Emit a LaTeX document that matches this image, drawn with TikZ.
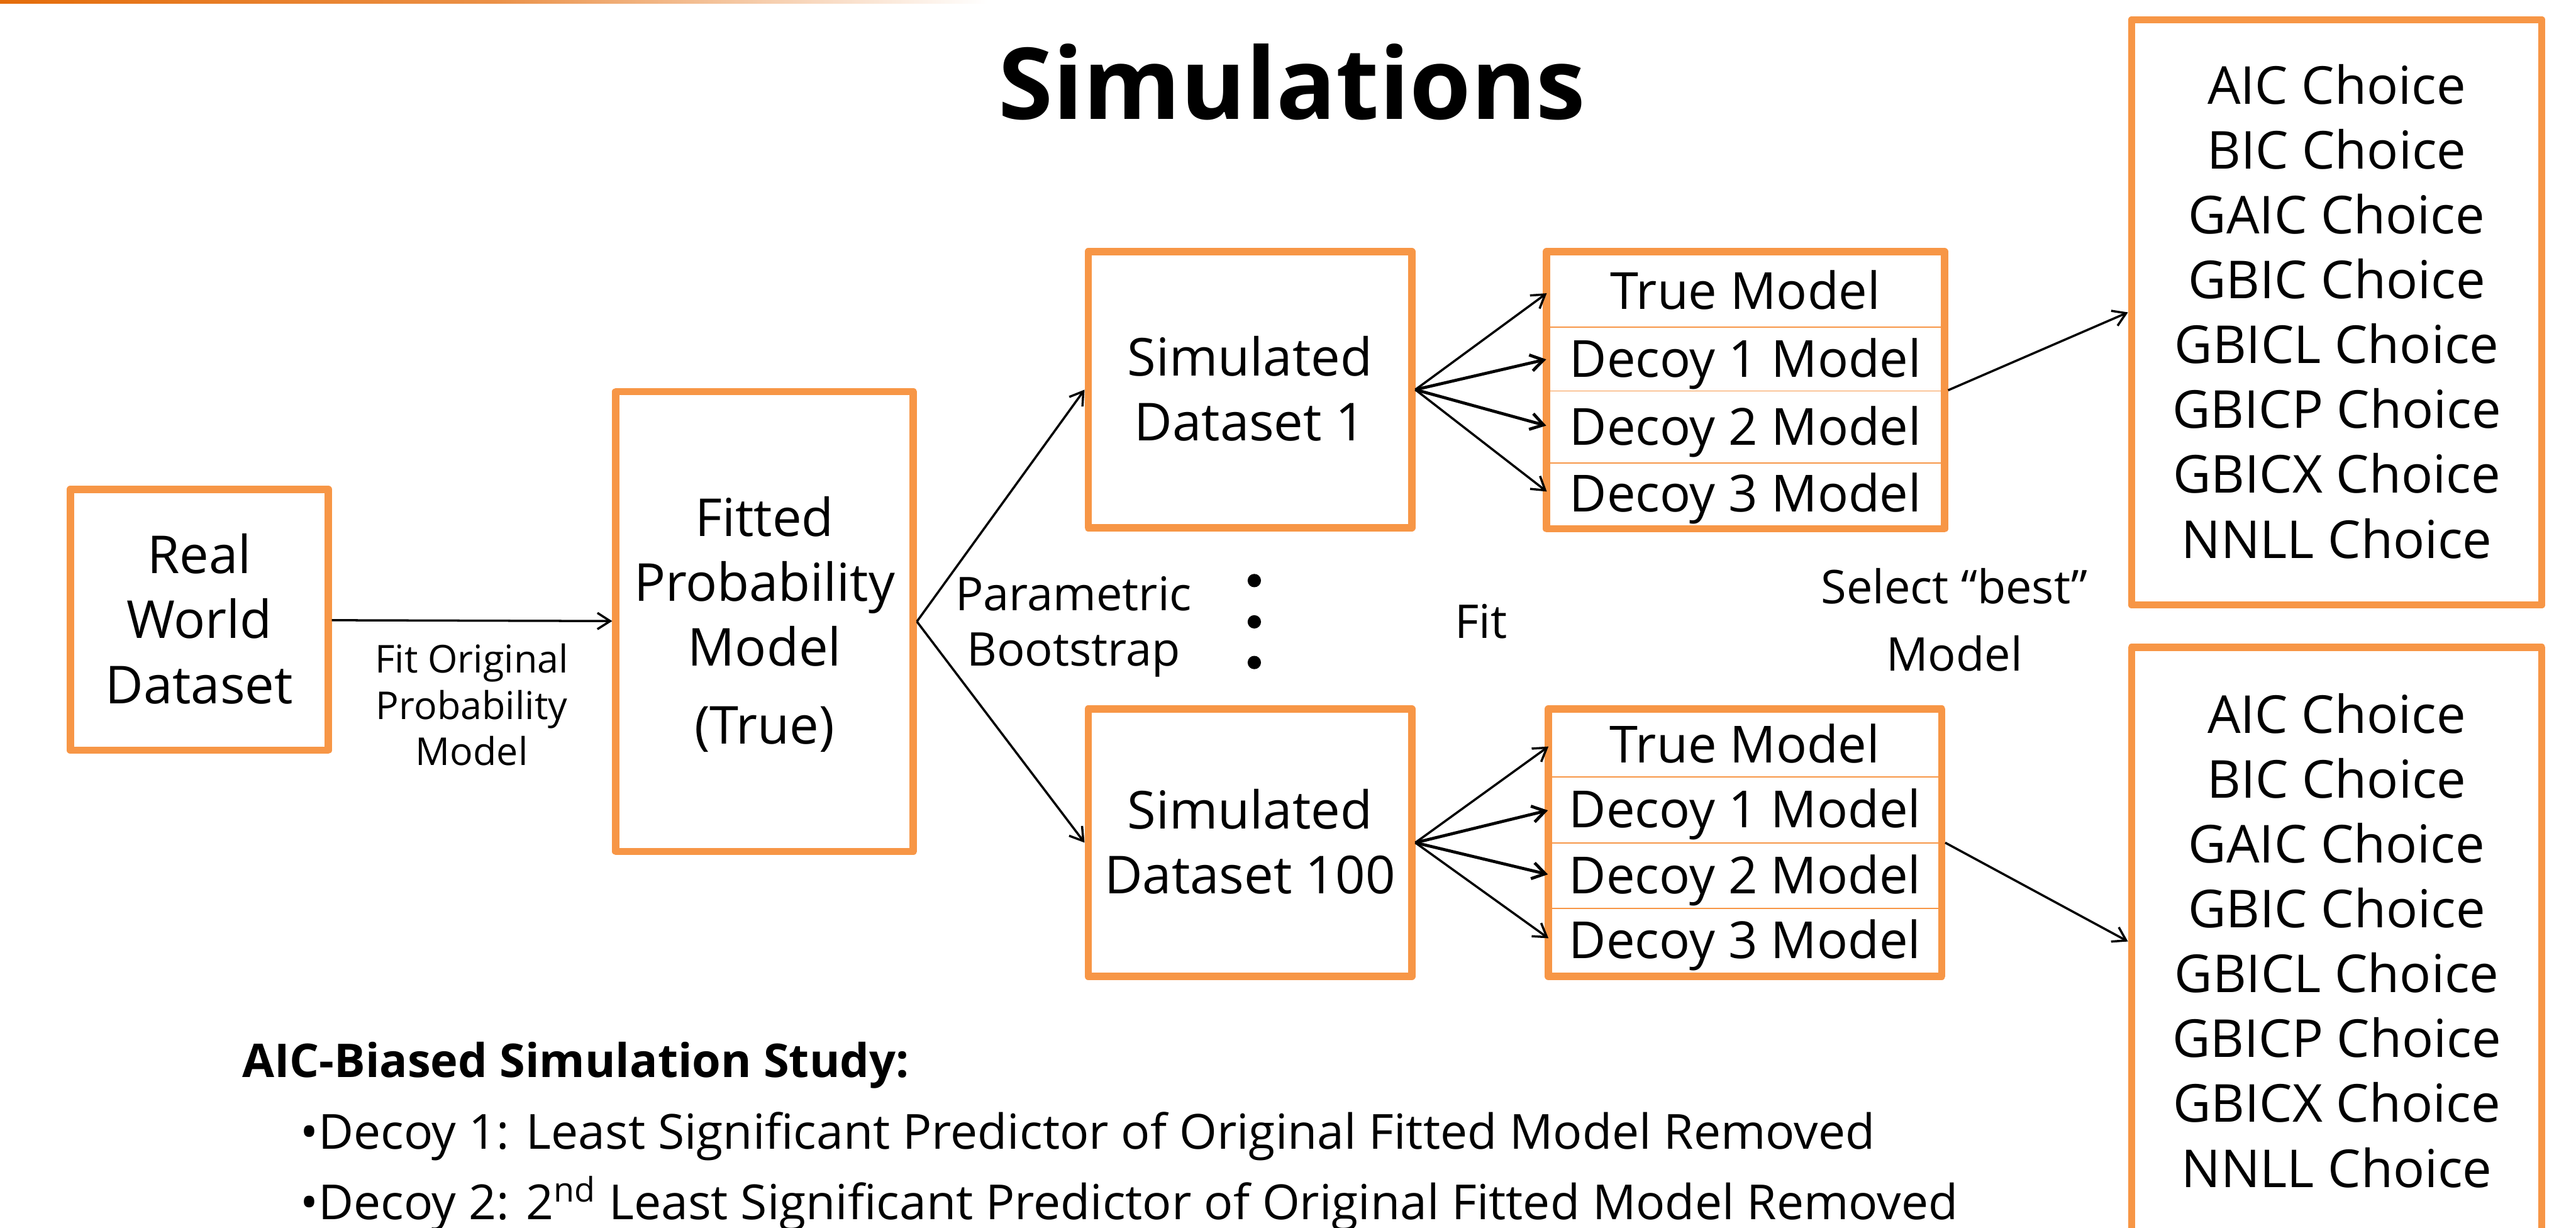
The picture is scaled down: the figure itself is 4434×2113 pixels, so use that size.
\documentclass[tikz,border=0pt]{standalone}
\usepackage{fontspec}
\setmainfont{Open Sans}
\usetikzlibrary{arrows.meta}
\definecolor{boxor}{RGB}{247,150,70}
\definecolor{topor}{RGB}{228,108,10}
\newcommand{\pxu}{0.25pt}
\newcommand{\cs}{\rule[-0.26em]{0pt}{1.234em}}
\newcommand{\boxfont}{\fontsize{22.5pt}{27.9pt}\selectfont\lineskiplimit=-100pt\relax}
\newcommand{\rowfont}{\fontsize{22pt}{26pt}\selectfont}
\newcommand{\smallfont}{\fontsize{16.5pt}{19.9pt}\selectfont\lineskiplimit=-100pt\relax}
\newcommand{\lblfont}{\fontsize{20pt}{24pt}\selectfont\lineskiplimit=-100pt\relax}
\newcommand{\selfont}{\fontsize{20pt}{28.75pt}\selectfont\lineskiplimit=-100pt\relax}
\newcommand{\titlefont}{\fontsize{42.7pt}{50pt}\selectfont\bfseries}
\newcommand{\studyfont}{\fontsize{20pt}{24pt}\selectfont\bfseries}
\newcommand{\bulfont}{\fontsize{20.8pt}{24pt}\selectfont}
\tikzset{
  frame/.style={draw=boxor, line width=3.1pt, line join=round, inner sep=0pt, align=center},
  boxtext/.style={font=\boxfont},
  rowbox/.style={inner sep=0pt, text height=20.9pt, text depth=5.19pt, font=\rowfont},
  divider/.style={draw=boxor, line width=0.5pt},
  conn/.style={draw=black, line width=0.95pt, -{Straight Barb[length=5.5pt,width=7pt]}},
  connb/.style={conn, line width=1.3pt},
  lbl/.style={inner sep=0pt, align=center},
  dotn/.style={circle, fill=black, inner sep=0pt, minimum size=23*\pxu},
}
\begin{document}
\begin{tikzpicture}[x=0.25pt, y=-0.25pt]
\useasboundingbox (0,0) rectangle (4434,2113);
\fill[white] (0,0) rectangle (4434,2113);
% top accent line
\shade[left color=topor, right color=white, middle color=topor!75!white] (0,0) rectangle (1700,6);

% title
\node[anchor=base, inner sep=0pt, font=\titlefont] (title) at (2224,205) {Simulations};

% main boxes
\node[frame, boxtext, minimum width=444*\pxu, minimum height=449*\pxu] (real) at (343,1066.5)
  {\cs Real\\\cs World\\\cs Dataset};
\node[frame, boxtext, minimum width=512*\pxu, minimum height=791*\pxu] (fitted) at (1316,1069.5)
  {\cs Fitted\\\cs Probability\\\cs Model\\[5.75pt]\cs (True)};
\node[frame, boxtext, minimum width=557*\pxu, minimum height=475*\pxu] (sim1) at (2151.5,670.5)
  {\cs Simulated\\\cs Dataset 1};
\node[frame, boxtext, minimum width=557*\pxu, minimum height=460*\pxu] (sim100) at (2151.5,1450)
  {\cs Simulated\\\cs Dataset 100};

% model boxes
\node[frame, minimum width=685*\pxu, minimum height=477*\pxu] (mods1) at (3004.5,671.5) {};
\node[rowbox, minimum width=673*\pxu, minimum height=122*\pxu] (m1a) at (3004.5,501) {True Model};
\node[rowbox, minimum width=673*\pxu, minimum height=110*\pxu] (m1b) at (3004.5,617) {Decoy 1 Model};
\node[rowbox, minimum width=673*\pxu, minimum height=124*\pxu] (m1c) at (3004.5,734) {Decoy 2 Model};
\node[rowbox, minimum width=673*\pxu, minimum height=107*\pxu] (m1d) at (3004.5,849.5) {Decoy 3 Model};
\draw[divider] (m1a.south west) -- (m1a.south east);
\draw[divider] (m1b.south west) -- (m1b.south east);
\draw[divider] (m1c.south west) -- (m1c.south east);

\node[frame, minimum width=677*\pxu, minimum height=460*\pxu] (mods2) at (3003.5,1450) {};
\node[rowbox, minimum width=665*\pxu, minimum height=110*\pxu] (m2a) at (3003.5,1281) {True Model};
\node[rowbox, minimum width=665*\pxu, minimum height=114*\pxu] (m2b) at (3003.5,1393) {Decoy 1 Model};
\node[rowbox, minimum width=665*\pxu, minimum height=112*\pxu] (m2c) at (3003.5,1506) {Decoy 2 Model};
\node[rowbox, minimum width=665*\pxu, minimum height=112*\pxu] (m2d) at (3003.5,1618) {Decoy 3 Model};
\draw[divider] (m2a.south west) -- (m2a.south east);
\draw[divider] (m2b.south west) -- (m2b.south east);
\draw[divider] (m2c.south west) -- (m2c.south east);

% choice boxes
\node[frame, boxtext, minimum width=706*\pxu, minimum height=1007*\pxu] (choice1) at (4022,537.5)
  {\cs AIC Choice\\\cs BIC Choice\\\cs GAIC Choice\\\cs GBIC Choice\\\cs GBICL Choice\\\cs GBICP Choice\\\cs GBICX Choice\\\cs NNLL Choice};
\node[frame, boxtext, minimum width=706*\pxu, minimum height=1012*\pxu] (choice2) at (4022,1620)
  {\cs AIC Choice\\\cs BIC Choice\\\cs GAIC Choice\\\cs GBIC Choice\\\cs GBICL Choice\\\cs GBICP Choice\\\cs GBICX Choice\\\cs NNLL Choice};

% labels
\node[lbl, font=\smallfont] (fitlbl) at (812,1214) {\cs Fit Original\\\cs Probability\\\cs Model};
\node[lbl, font=\lblfont] (boot) at (1848,1069.5) {\cs Parametric\\\cs Bootstrap};
\node[lbl, font=\lblfont] (fitl) at (2549,1069.5) {\cs Fit};
\node[lbl, font=\selfont] (sel) at (3364,1068) {\cs Select “best”\\\cs Model};

% dots
\node[dotn] (d1) at (2159,999) {};
\node[dotn] (d2) at (2159,1070) {};
\node[dotn] (d3) at (2159,1140) {};

% connectors
\draw[conn] (real) -- (fitted);
\draw[conn] (fitted.east) -- (sim1.west);
\draw[conn] (fitted.east) -- (sim100.west);
\draw[conn, shorten >=1.5pt] (sim1.east) -- (m1a.west);
\draw[connb, shorten >=1.5pt] (sim1.east) -- (m1b.west);
\draw[connb, shorten >=1.5pt] (sim1.east) -- (m1c.west);
\draw[conn, shorten >=1.5pt] (sim1.east) -- (m1d.west);
\draw[conn, shorten >=1.5pt] (sim100.east) -- (m2a.west);
\draw[connb, shorten >=1.5pt] (sim100.east) -- (m2b.west);
\draw[connb, shorten >=1.5pt] (sim100.east) -- (m2c.west);
\draw[conn, shorten >=1.5pt] (sim100.east) -- (m2d.west);
\draw[conn] (mods1.east) -- (choice1.west);
\draw[conn] (mods2.east) -- (choice2.west);

% bottom notes
\node[anchor=base west, inner sep=0pt, font=\studyfont] (study) at (416,1854) {AIC-Biased Simulation Study:};
\node[anchor=base west, inner sep=0pt, font=\bulfont] (dec1) at (516,1977) {•Decoy 1: Least Significant Predictor of Original Fitted Model Removed};
\node[anchor=base west, inner sep=0pt, font=\bulfont] (dec2) at (516,2098) {•Decoy 2: 2\textsuperscript{nd} Least Significant Predictor of Original Fitted Model Removed};
\end{tikzpicture}
\end{document}
